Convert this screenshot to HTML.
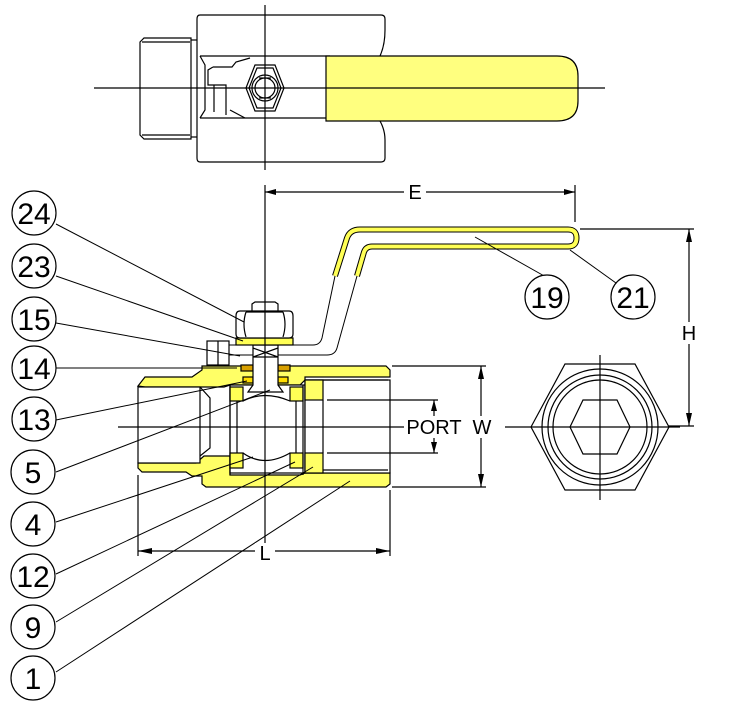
<!DOCTYPE html>
<html><head><style>html,body{margin:0;padding:0;background:#fff}svg{display:block}</style></head>
<body>
<svg width="750" height="718" viewBox="0 0 750 718" xmlns="http://www.w3.org/2000/svg" font-family="Liberation Sans, sans-serif">
<g fill="none" stroke="#000" stroke-width="1.2">
<!-- TOP VIEW -->
<path d="M140 42 L144 38 L191 38 L191 139 L144 139 L140 135 Z" fill="#fff"/>
<line x1="142" y1="42" x2="190" y2="42"/><line x1="142" y1="135" x2="190" y2="135"/>
<path d="M200 15 H381 Q385 15 385 19 V30 Q385 45 380 56 L380 121 Q385 130 385 140 V158 Q385 162 381 162 H200 Q197 162 197 158 V19 Q197 15 200 15 Z" fill="#fff"/>
<line x1="191" y1="40" x2="197" y2="40"/><line x1="191" y1="137" x2="197" y2="137"/>
<path d="M200 56 L330 56 M200 118 L330 118 M200 56 L205 65 L205 110 L200 118"/>
<path d="M213 67 L232 67 L236 62 L250 58 M213 67 L208 70 L208 85 L226 85 L226 115 M230 110 L245 118 M214 85 L214 112"/>
<path d="M246 88 L255 65 L275 65 L284 88 L275 111 L255 111 Z" fill="#fff"/>
<path d="M249 88 L257 68 L273 68 L281 88 L273 108 L257 108 Z"/>
<circle cx="265" cy="88" r="13"/><circle cx="265" cy="88" r="10"/>
<line x1="259" y1="78" x2="271" y2="78"/><line x1="259" y1="98" x2="271" y2="98"/>
<path d="M326 56 L557 56 Q578 56 578 76 L578 101 Q578 121 557 121 L326 121 Z" fill="#ffff7f"/>
<line x1="94" y1="88" x2="605" y2="88"/><line x1="265" y1="5" x2="265" y2="170"/>

<!-- HANDLE side view lower part -->
<path d="M228 345 L313 345 Q320 345 322 338 L335 276 M357 276 L337 348 Q335 355 327 355 L228 355" fill="none" stroke-width="1"/>
<path id="hp" d="M335 276 L347 238 Q350 229.5 360 229.5 L568 229.5 Q576.5 229.5 576.5 238 Q576.5 246.5 568 246.5 L372 246.5 Q366 246.5 364 252 L357 276" stroke="#000" stroke-width="6"/>
<path d="M335 276 L347 238 Q350 229.5 360 229.5 L568 229.5 Q576.5 229.5 576.5 238 Q576.5 246.5 568 246.5 L372 246.5 Q366 246.5 364 252 L357 276" stroke="#ffff55" stroke-width="4"/>

<!-- BODY -->
<path d="M138 386 L145 377 L192 377 L202 370 L202 366 L386 366 L390 370 L390 377 L305 377 L305 380 L300 385 L230 385 L224 387 L145 387 Z" fill="#ffff66"/>
<path d="M138 463 L196 463 L204 456 L230 456 L230 475 L300 475 L305 473 L390 473 L390 484 L386 487 L206 487 L202 484 L202 476 L192 476 L186 472 L142 472 L138 468 Z" fill="#ffff66"/>
<rect x="138" y="387" width="62" height="76" fill="#fff"/>
<path d="M200 387 L210 398 L210 448 L200 456"/>
<rect x="230" y="385" width="75" height="88" fill="#fff"/>
<rect x="305" y="380" width="85" height="93" fill="#fff"/>
<line x1="305" y1="380" x2="388" y2="380"/><line x1="305" y1="470" x2="388" y2="470"/>
<rect x="230" y="387" width="13" height="14" fill="#ffff55"/><rect x="230" y="453" width="13" height="15" fill="#ffff55"/>
<rect x="290" y="387" width="13" height="14" fill="#ffff55"/><rect x="290" y="453" width="13" height="15" fill="#ffff55"/>
<rect x="305" y="380" width="18" height="20" fill="#ffff66"/><rect x="305" y="453" width="18" height="20" fill="#ffff66"/>
<line x1="230" y1="385" x2="230" y2="475"/><line x1="303" y1="385" x2="303" y2="475"/><line x1="323" y1="400" x2="323" y2="453"/>
<line x1="237" y1="401" x2="237" y2="453"/><line x1="296" y1="401" x2="296" y2="453"/>
<path d="M243 401 Q264 390 290 401 M243 453 Q264 468 290 453"/>
<rect x="241" y="365" width="12" height="6" fill="#d8a000"/><rect x="278" y="365" width="12" height="6" fill="#d8a000"/>
<rect x="243" y="377" width="10" height="6" fill="#ffdd00"/><rect x="278" y="377" width="10" height="6" fill="#ffdd00"/>
<path d="M253 345 L278 345 L278 385 L283 392 L248 392 L253 385 Z" fill="#fff"/>
<path d="M253 348 L278 357 M278 348 L253 357 M253 357 L278 357"/>
<rect x="207" y="341" width="22" height="24" fill="#fff"/><line x1="218" y1="341" x2="218" y2="365"/>
<rect x="236" y="338" width="57" height="7" fill="#ffff55"/>
<path d="M240 311 L289 311 Q293 311 293 316 L293 334 Q293 338 289 338 L240 338 Q236 338 236 334 L236 316 Q236 311 240 311 Z" fill="#fff"/>
<path d="M246 312 Q242 324 246 337 M283 312 Q287 324 283 337 M246 312 L283 312"/>
<path d="M252 311 L252 304 L255 302 L275 302 L278 304 L278 311"/>

<line x1="118" y1="427" x2="440" y2="427"/><line x1="265" y1="185" x2="265" y2="560"/>

<line x1="265" y1="192" x2="575" y2="192"/><line x1="575" y1="185" x2="575" y2="222"/>
<line x1="580" y1="229" x2="694" y2="229"/><line x1="660" y1="426" x2="694" y2="426"/>
<line x1="689" y1="229" x2="689" y2="426"/>
<line x1="392" y1="366" x2="486" y2="366"/><line x1="392" y1="487" x2="486" y2="487"/><line x1="481" y1="366" x2="481" y2="487"/>
<line x1="327" y1="400" x2="438" y2="400"/><line x1="327" y1="453" x2="438" y2="453"/><line x1="434" y1="400" x2="434" y2="453"/>
<line x1="138" y1="475" x2="138" y2="556"/><line x1="390" y1="490" x2="390" y2="556"/><line x1="138" y1="551" x2="390" y2="551"/>

<polygon points="531,427 565,364 635,364 669,427 635,490 565,490" fill="#fff"/>
<circle cx="600" cy="427" r="58"/><circle cx="600" cy="427" r="52"/><circle cx="600" cy="427" r="47"/>
<polygon points="570,427 583,400 617,400 630,427 617,454 583,454" fill="#fff"/>
<line x1="505" y1="427" x2="680" y2="427"/><line x1="600" y1="355" x2="600" y2="500"/>

<path d="M56 224 L244 322 M56 276 L243 341 M56 323 L240 356 M56 368 L237 368 M56 420 L247 381 M56 472 L270 390 M56 522 L253 457 M56 574 L295 462 M56 622 L313 467 M56 672 L350 481 M546 277 L475 237 M616 283 L570 250" stroke-width="1"/>
</g>
<g fill="#000">
<polygon points="265,192 276,189 276,195"/><polygon points="575,192 564,189 564,195"/>
<polygon points="689,229 686,242 692,242"/><polygon points="689,426 686,413 692,413"/>
<polygon points="481,366 478,379 484,379"/><polygon points="481,487 478,474 484,474"/>
<polygon points="434,400 431,411 437,411"/><polygon points="434,453 431,442 437,442"/>
<polygon points="138,551 152,548 152,554"/><polygon points="390,551 376,548 376,554"/>
</g>
<g font-size="20" fill="#000" text-anchor="middle">
<rect x="404" y="182" width="22" height="20" fill="#fff"/><text x="415" y="199">E</text>
<rect x="680" y="322" width="18" height="22" fill="#fff"/><text x="689" y="340">H</text>
<rect x="255" y="543" width="20" height="18" fill="#fff"/><text x="265" y="560">L</text>
<rect x="404" y="416" width="90" height="22" fill="#fff"/><text x="434" y="434">PORT</text><text x="482" y="434">W</text>
</g>
<g fill="#fff" stroke="#000" stroke-width="1.2">
<circle cx="34" cy="213" r="22"/><circle cx="34" cy="266" r="22"/><circle cx="34" cy="319" r="22"/><circle cx="34" cy="368" r="22"/><circle cx="34" cy="419" r="22"/><circle cx="33" cy="472" r="22"/><circle cx="33" cy="524" r="22"/><circle cx="33" cy="576" r="22"/><circle cx="33" cy="627" r="22"/><circle cx="33" cy="678" r="22"/><circle cx="547" cy="297" r="22"/><circle cx="633" cy="297" r="22"/>
</g>
<g font-size="30" fill="#000" text-anchor="middle">
<text x="34" y="224">24</text><text x="34" y="277">23</text><text x="34" y="330">15</text><text x="34" y="379">14</text><text x="34" y="430">13</text><text x="33" y="483">5</text><text x="33" y="535">4</text><text x="33" y="587">12</text><text x="33" y="638">9</text><text x="33" y="689">1</text><text x="547" y="308">19</text><text x="633" y="308">21</text>
</g>
</svg>
</body></html>
